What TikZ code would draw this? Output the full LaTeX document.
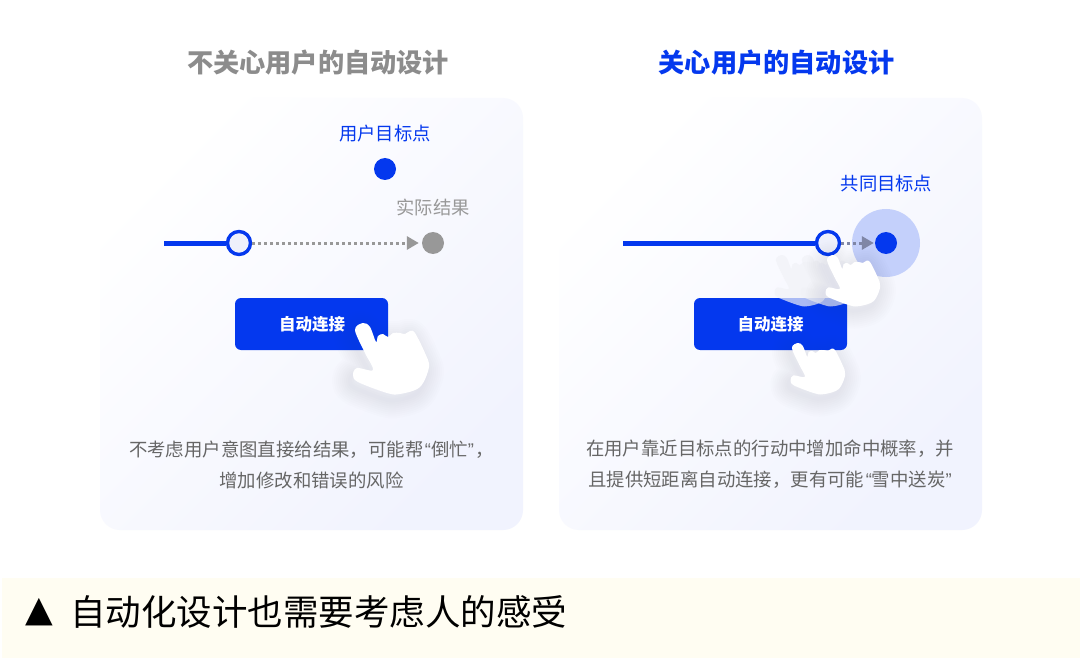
\documentclass[tikz,border=0pt]{standalone}
\usepackage{fontspec}
\setmainfont{Noto Sans CJK SC}
\newfontfamily\symfont{DejaVu Sans}
\newfontfamily\quotefont{Liberation Sans}
\usetikzlibrary{arrows.meta, positioning}
\definecolor{autoblue}{HTML}{0438EE}
\definecolor{autogray}{HTML}{989898}
\definecolor{titlegray}{HTML}{8C8C8C}
\definecolor{bodygray}{HTML}{666666}
\definecolor{panelend}{HTML}{F1F3FE}
\definecolor{ringfill}{HTML}{EEF0FB}
\definecolor{halofill}{HTML}{C4D0FB}
\definecolor{footfill}{HTML}{FFFDF2}
\definecolor{nearend}{HTML}{7F86A6}
\definecolor{shadowblue}{HTML}{3A4270}
\definecolor{fadehand}{HTML}{F1F2F7}
\newcommand{\handoutline}{plot[smooth cycle, tension=0.55] coordinates {(1,0) (-7,7) (3,30) (11,47) (-5,45) (-9,52) (-4,59) (25,70) (38,71) (58,64) (67,44) (63,30) (53,10) (48,8) (43,11) (38,10) (31,10) (26,14) (21,11) (16,13) (14,19) (8,4)}}
\newcommand{\openq}{\hspace{1.5pt}{\quotefont “}}
\newcommand{\closeq}{{\quotefont ”}\hspace{1.5pt}}

\begin{document}
\begin{tikzpicture}[
    x=1pt, y=-1pt,
    node distance=6pt and 6pt,
    title_node/.style={font=\fontsize{26.2}{30}\selectfont\bfseries, inner sep=0pt},
    panel_node/.style={rectangle, rounded corners=20pt, minimum width=423pt, minimum height=432pt, inner sep=0pt, left color=white, right color=panelend, shading angle=45},
    tag_node/.style={font=\fontsize{18.3}{20}\selectfont, inner sep=0pt},
    body_node/.style={font=\fontsize{18.4}{31}\selectfont, text=bodygray, align=center, inner sep=0pt},
    button_node/.style={rectangle, rounded corners=6pt, fill=autoblue, minimum width=153pt, minimum height=52pt, inner sep=0pt, text=white, font=\fontsize{16.5}{20}\selectfont\bfseries},
    ring_node/.style={circle, draw=autoblue, line width=3.4pt, fill=ringfill, minimum size=23pt, inner sep=0pt},
    dot_node/.style={circle, minimum size=22pt, inner sep=0pt},
    track/.style={draw=autoblue, line width=5pt},
    arrow/.style={-{Triangle[length=12pt, width=13pt]}, line width=3pt, dash pattern=on 2.8pt off 3.2pt, shorten >=3pt},
    hand_plain/.pic={
        \path[fill=fadehand, pic actions] \handoutline;
    },
    hand_soft/.pic={
        \foreach \spread in {36,32,...,2}
            \draw[shadowblue, opacity=0.008, line width=\spread pt, line join=round, xshift=-3pt, yshift=-6pt] \handoutline;
        \path[fill=white] \handoutline;
    }
]
\useasboundingbox (0,0) rectangle (1080,658);
\fill[white] (0,0) rectangle (1080,658);

% Left panel
\node[panel_node] (panel_left) at (311.5,314) {};
\node[title_node, text=titlegray] (title_left) at (318,63) {不关心用户的自动设计};
\node[dot_node, fill=autoblue] (target_left) at (385,169) {};
\node[tag_node, text=autoblue, above=of target_left, yshift=10pt] (tag_target) {用户目标点};
\node[dot_node, fill=autogray] (result_left) at (433,243) {};
\node[tag_node, text=autogray, above=of result_left, yshift=10pt] (tag_result) {实际结果};
\coordinate (start_left) at (164,243);
\node[ring_node] (ring_left) at (239,243) {};
\node[button_node] (button_left) at (311.5,324) {\hspace{1pt}\raisebox{-1pt}{自动连接}};
\node[body_node] (body_left) at (311.5,464.5) {不考虑用户意图直接给结果，可能帮\openq 倒忙\closeq ，\\增加修改和错误的风险};

% Right panel
\node[panel_node] (panel_right) at (770.5,314) {};
\node[title_node, text=autoblue] (title_right) at (776.5,63) {关心用户的自动设计};
\node[circle, fill=halofill, minimum size=68pt, inner sep=0pt] (halo_right) at (886,243) {};
\node[dot_node, fill=autoblue] (target_right) at (886,243) {};
\node[tag_node, text=autoblue] (tag_common) at (886.5,184) {共同目标点};
\coordinate (start_right) at (623,243);
\node[ring_node] (ring_right) at (828,243) {};
\node[button_node] (button_right) at (770.5,324) {\raisebox{-1pt}{自动连接}};
\node[body_node] (body_right) at (770,464.5) {在用户靠近目标点的行动中增加命中概率，并\\且提供短距离自动连接，更有可能\openq 雪中送炭\closeq};

% Connections
\draw[track] (start_left) -- (ring_left);
\draw[track] (start_right) -- (ring_right);
\draw[arrow, draw=autogray] (ring_left) -- (result_left);
\draw[arrow, draw=nearend, shorten >=1pt] (ring_right) -- (target_right);

% Hands
\path (362,323) pic {hand_soft};
\path (781,255) pic[scale=0.72, opacity=0.7] {hand_plain};
\path (807,255) pic[scale=0.72, opacity=0.7] {hand_plain};
\path (832,255) pic[scale=0.72] {hand_soft};
\path (797,343) pic[scale=0.72] {hand_soft};

% Footer
\fill[footfill] (2,578) rectangle (1080,658);
\node[inner sep=0pt, font=\fontsize{36}{40}\selectfont\symfont] (footer_mark) at (39,612) {▲};
\node[anchor=west, inner sep=0pt, font=\fontsize{35.5}{40}\selectfont] (footer_text) at (70,612) {自动化设计也需要考虑人的感受};
\end{tikzpicture}
\end{document}
